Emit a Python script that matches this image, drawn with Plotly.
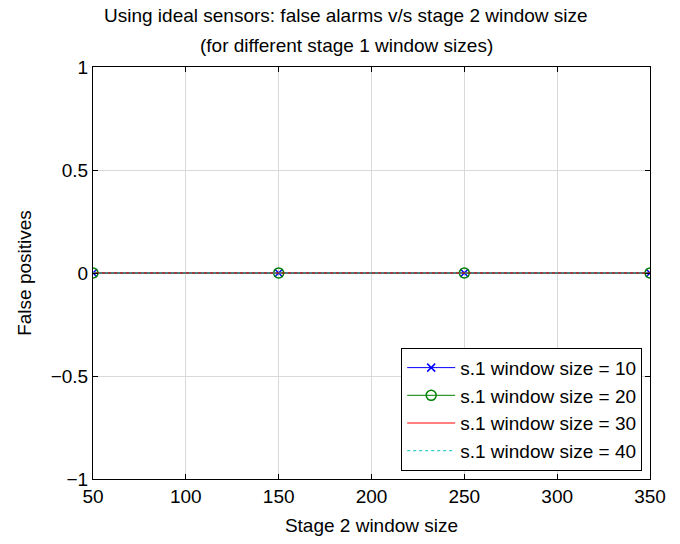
import plotly.graph_objects as go

x_vals = [50, 150, 250, 350]
fp_w10 = [0, 0, 0, 0]
fp_w20 = [0, 0, 0, 0]
fp_w30 = [0, 0, 0, 0]
fp_w40 = [0, 0, 0, 0]
names = ["s.1 window size = 10", "s.1 window size = 20",
         "s.1 window size = 30", "s.1 window size = 40"]
x_ticks = [50, 100, 150, 200, 250, 300, 350]
y_ticks = [-1, -0.5, 0, 0.5, 1]
title_lines = ["Using ideal sensors: false alarms v/s stage 2 window size",
               "(for different stage 1 window sizes)"]

FONT = "Liberation Sans, Arial, Helvetica, sans-serif"
FS = 19

fig = go.Figure()
fig.add_trace(go.Scatter(x=x_vals, y=fp_w10, name=names[0], mode="lines+markers",
                         line=dict(color="#0000ff", width=1),
                         marker=dict(symbol="x-thin-open", size=8, color="#0000ff",
                                     line=dict(color="#0000ff", width=1.5))))
fig.add_trace(go.Scatter(x=x_vals, y=fp_w20, name=names[1], mode="lines+markers",
                         line=dict(color="#008000", width=1),
                         marker=dict(symbol="circle-open", size=10, color="#008000",
                                     line=dict(color="#008000", width=1.5))))
fig.add_trace(go.Scatter(x=x_vals, y=fp_w30, name=names[2], mode="lines",
                         line=dict(color="#ff0000", width=1)))
fig.add_trace(go.Scatter(x=x_vals, y=fp_w40, name=names[3], mode="lines",
                         line=dict(color="#00bfbf", width=1, dash="dot")))

# Title as two centred lines
for txt, ypos in zip(title_lines, [1.1256, 1.0531]):
    fig.add_annotation(text=txt, xref="paper", yref="paper", x=0.455, y=ypos,
                       xanchor="center", yanchor="middle", showarrow=False,
                       font=dict(family=FONT, size=FS, color="black"))

fig.update_layout(
    width=680, height=544,
    paper_bgcolor="white", plot_bgcolor="white",
    margin=dict(l=93, r=30, t=67, b=63),
    font=dict(family=FONT, size=FS, color="black"),
    showlegend=True,
    legend=dict(x=0.986, xanchor="right", y=0.02, yanchor="bottom",
                bgcolor="white", bordercolor="black", borderwidth=1,
                font=dict(size=FS), tracegroupgap=0, itemwidth=48),
)
fig.update_xaxes(range=[50, 350], tickvals=x_ticks,
                 showgrid=True, gridcolor="#d9d9d9", gridwidth=1,
                 showline=True, linecolor="black", linewidth=1, mirror="ticks",
                 ticks="inside", ticklen=5, tickcolor="black", zeroline=False,
                 tickfont=dict(size=FS),
                 title=dict(text="Stage 2 window size", standoff=12, font=dict(size=FS)))
fig.update_yaxes(range=[-1, 1], tickvals=y_ticks,
                 showgrid=True, gridcolor="#d9d9d9", gridwidth=1,
                 showline=True, linecolor="black", linewidth=1, mirror="ticks",
                 ticks="inside", ticklen=5, tickcolor="black", zeroline=False,
                 tickfont=dict(size=FS),
                 title=dict(text="False positives", standoff=14, font=dict(size=FS)))

fig.write_html("out.html", config={"displayModeBar": False},
               post_script="document.body.style.margin='0';")
